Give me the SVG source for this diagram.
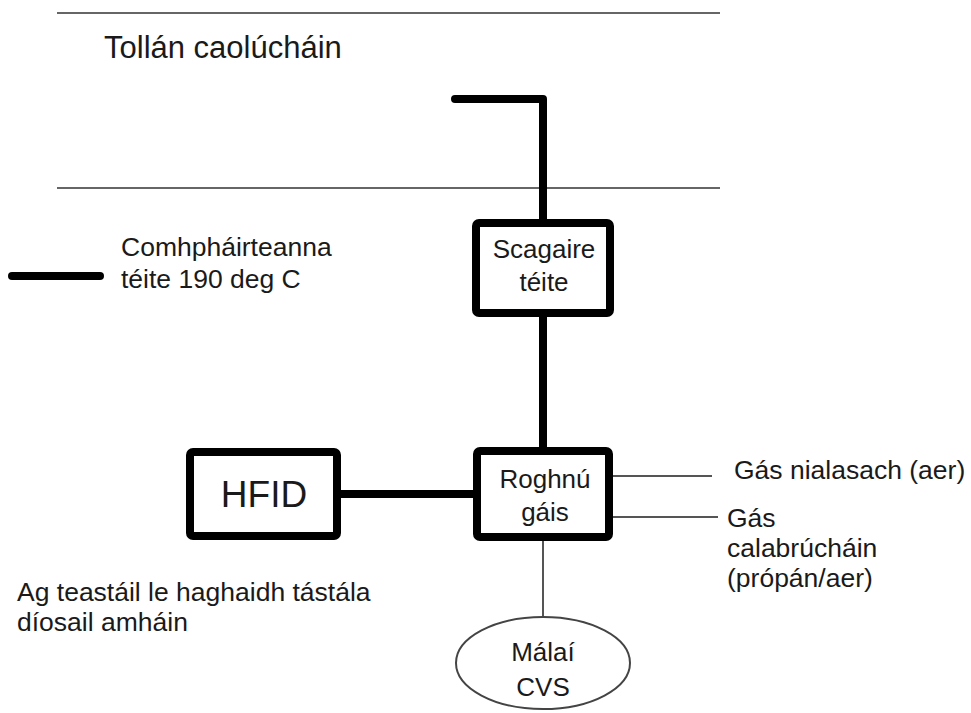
<svg xmlns="http://www.w3.org/2000/svg" width="971" height="713" viewBox="0 0 971 713">
<style>
text{font-family:"Liberation Sans",Arial,sans-serif;fill:#1a1a1a}
.t{font-size:26.5px}
.b{font-size:26px}
.box{fill:#fff;stroke:#000;stroke-width:8;stroke-linejoin:round}
.thick{fill:none;stroke:#000;stroke-width:8;stroke-linecap:round;stroke-linejoin:round}
.thin{fill:none;stroke:#555;stroke-width:2}
.rule{fill:none;stroke:#666;stroke-width:2}
</style>
<rect width="971" height="713" fill="#fff"/>
<g id="tunnel">
<line class="rule" x1="57" y1="13" x2="720" y2="13"/>
<line class="rule" x1="57" y1="188" x2="720" y2="188"/>
<text x="104" y="58" font-size="31">Tollán caolúcháin</text>
</g>
<g id="legend">
<line class="thick" x1="12" y1="276" x2="100" y2="276"/>
<text class="t" x="121" y="256">Comhpháirteanna</text>
<text class="t" x="121" y="288">téite 190 deg C</text>
</g>
<g id="connectors">
<polyline class="thick" points="455,99 543,99 543,220"/>
<line class="thick" x1="543" y1="316" x2="543" y2="448"/>
<line class="thick" x1="340" y1="494" x2="474" y2="494"/>
<line class="thin" x1="612" y1="476" x2="712" y2="476"/>
<line class="thin" x1="612" y1="517" x2="718" y2="517"/>
<line class="thin" x1="543" y1="540" x2="543" y2="617"/>
</g>
<g id="scagaire">
<rect class="box" x="476" y="223" width="134" height="90" rx="3"/>
<text class="b" x="544" y="258" text-anchor="middle">Scagaire</text>
<text class="b" x="544" y="291" text-anchor="middle">téite</text>
</g>
<g id="hfid">
<rect class="box" x="190" y="452" width="147" height="84" rx="3"/>
<text x="264" y="507" font-size="37" text-anchor="middle">HFID</text>
</g>
<g id="roghnu">
<rect class="box" x="477" y="451" width="132" height="86" rx="3"/>
<text class="b" x="545" y="488" text-anchor="middle">Roghnú</text>
<text class="b" x="545" y="521" text-anchor="middle">gáis</text>
</g>
<g id="malai">
<ellipse cx="543" cy="663" rx="87" ry="46" fill="#fff" stroke="#444" stroke-width="2"/>
<text class="b" x="543" y="661" text-anchor="middle">Málaí</text>
<text class="b" x="543" y="696" text-anchor="middle">CVS</text>
</g>
<g id="labels">
<text class="t" x="734" y="479">Gás nialasach (aer)</text>
<text class="t" x="727" y="527">Gás</text>
<text class="t" x="727" y="557">calabrúcháin</text>
<text class="t" x="727" y="587">(própán/aer)</text>
<text class="t" x="17" y="601">Ag teastáil le haghaidh tástála</text>
<text class="t" x="17" y="631">díosail amháin</text>
</g>
</svg>
